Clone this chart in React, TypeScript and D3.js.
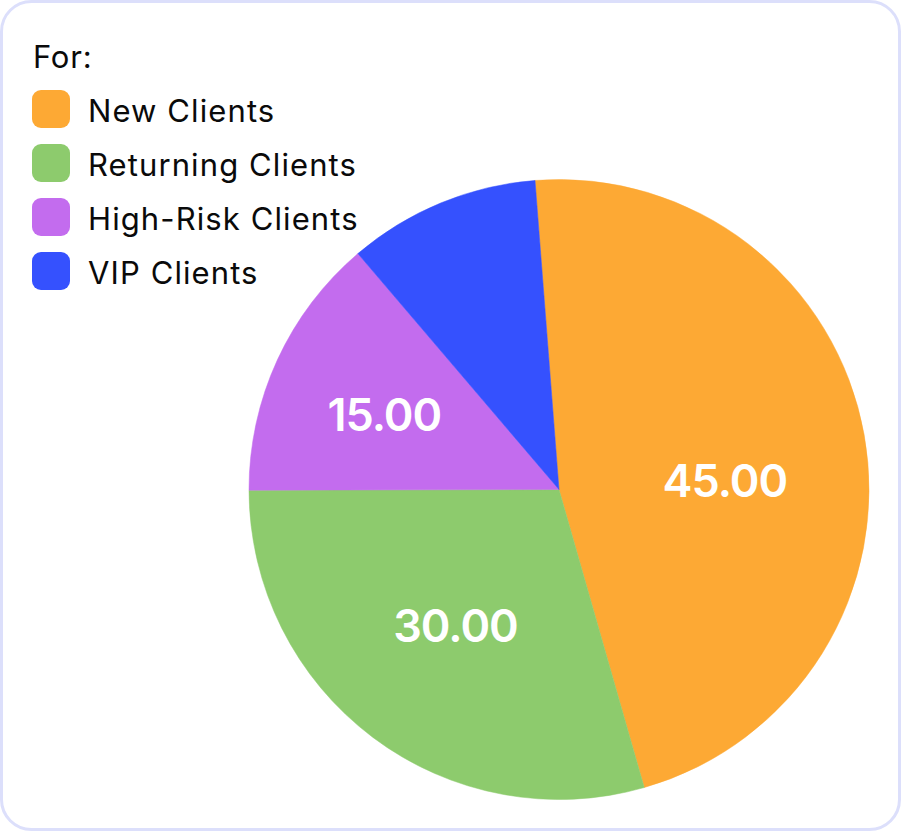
import React from "react";
import * as d3 from "d3";

const categories = ["New Clients", "Returning Clients", "High-Risk Clients", "VIP Clients"];
// slice shares (%)
const sliceShares = [46.8, 29.4, 13.8, 10.0];
// value labels printed on the slices
const labelValues: (number | null)[] = [45, 30, 15, null];
const colors = ["#FDA934", "#8DCB6D", "#C36CEE", "#3551FE"];
const legendTitle = "For:";

const W = 902;
const H = 832;
const CX = 559;
const CY = 489.5;
const R = 310;
const START_DEG = -4.44;
// label layout (radius, angular nudge in degrees)
const labelRadius = [166, 171, 190];
const labelNudgeDeg = [7.4, 0.3, -1.6];

export default function App() {
  const rows = categories.map((c, i) => ({ name: c, share: sliceShares[i], label: labelValues[i], color: colors[i] }));
  const start = (START_DEG * Math.PI) / 180;
  const pie = d3
    .pie<any>()
    .sort(null)
    .value((d) => d.share)
    .startAngle(start)
    .endAngle(start + 2 * Math.PI);
  const arcs = pie(rows);
  const arc = d3.arc<any>().innerRadius(0).outerRadius(R);
  const font = "Inter, 'Noto Sans', sans-serif";

  return (
    <div style={{ position: "absolute", left: 0, top: 0 }}>
      <svg width={W} height={H} style={{ display: "block" }}>
        <rect x={1.5} y={1.5} width={W - 4} height={H - 4} rx={30} ry={30} fill="#ffffff" stroke="#DCDFFB" strokeWidth={3} />
        <g transform={`translate(${CX},${CY})`}>
          {arcs.map((a, i) => (
            <path key={i} d={arc(a) || ""} fill={a.data.color} stroke={a.data.color} strokeWidth={0.5} />
          ))}
          {arcs.map((a, i) => {
            if (a.data.label == null) return null;
            const mid = (a.startAngle + a.endAngle) / 2 + (labelNudgeDeg[i] * Math.PI) / 180;
            const r = labelRadius[i];
            const c = d3
              .arc<any>()
              .innerRadius(r)
              .outerRadius(r)
              .centroid({ startAngle: mid, endAngle: mid } as any);
            return (
              <text
                key={"l" + i}
                x={c[0]}
                y={c[1] + 16}
                textAnchor="middle"
                fill="#ffffff"
                fontFamily={font}
                fontWeight={600}
                fontSize={45}
                letterSpacing={-1}
              >
                {d3.format(".2f")(a.data.label)}
              </text>
            );
          })}
        </g>
        <g fontFamily={font} fill="#0a0a0a">
          <text x={33} y={68} fontSize={31} letterSpacing={0.8}>
            {legendTitle}
          </text>
          {rows.map((d, i) => (
            <g key={d.name} transform={`translate(0,${i * 54})`}>
              <rect x={32} y={90} width={38} height={38} rx={9} fill={d.color} />
              <text x={88} y={121.5} fontSize={31} letterSpacing={1.1}>
                {d.name}
              </text>
            </g>
          ))}
        </g>
      </svg>
    </div>
  );
}
